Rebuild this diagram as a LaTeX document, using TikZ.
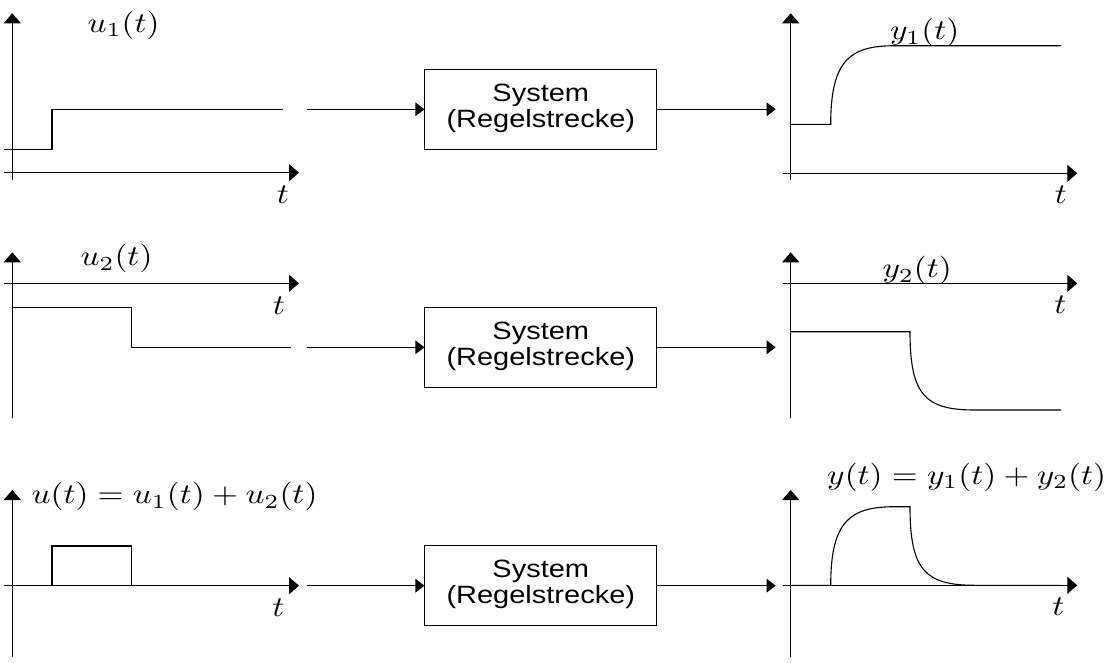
\documentclass[tikz,border=0pt]{standalone}
\usepackage{fontspec}
\usepackage{graphicx}
\usetikzlibrary{arrows.meta}
\newfontfamily\boxfont{Liberation Sans}
\newcommand{\hs}[1]{\scalebox{3.33}[2.85]{#1}}
\newcommand{\boxtext}{\scalebox{1.16}[1]{\begin{tabular}{@{}c@{}}System\\(Regelstrecke)\end{tabular}}}
\tikzset{
  axis/.style={line width=1.3pt, -{Triangle[length=10pt,width=17pt]}},
  sig/.style={line width=1.1pt},
  flow/.style={line width=1.1pt, -{Triangle[length=9pt,width=13.5pt]}},
  sysbox/.style={draw, line width=1pt, minimum width=231.7pt, minimum height=80pt, inner sep=0,
    font=\boxfont\fontsize{25}{25.6}\selectfont},
  lab/.style={inner sep=0, font=\normalsize},
}
\begin{document}
\begin{tikzpicture}[x=1pt,y=-1pt]
\useasboundingbox (0,0) rectangle (1109,662);
% ---------- Row 1 ----------
\draw[axis] (12.3,180) -- (12.3,13.3);
\draw[axis] (4.3,172.7) -- (299,172.7);
\draw[sig] (4.3,149.7) -- (52,149.7) -- (52,109.3) -- (282.7,109.3);
\node[lab] (lu1) at (123.7,25.2) {\hs{$u_1(t)$}};
\node[lab,anchor=base] (t1a) at (283,203) {\hs{$t$}};
\coordinate (in1) at (306.7,109.3);
\node[sysbox] (b1) at (540.8,109.3) {\boxtext};
\coordinate (out1) at (775.7,109.3);
\draw[flow] (in1) -- (b1.west);
\draw[flow] (b1.east) -- (out1);
\draw[axis] (790.7,180) -- (790.7,13.3);
\draw[axis] (782.7,173.3) -- (1077.3,173.3);
\draw[sig] (790.7,124.3) -- (830.7,124.3) .. controls (830.7,60) and (850,45.7) .. (895,45.7) -- (1061,45.7);
\node[lab] (ly1) at (924.7,32.8) {\hs{$y_1(t)$}};
\node[lab,anchor=base] (t1b) at (1061,203) {\hs{$t$}};
% ---------- Row 2 ----------
\draw[axis] (12.3,418.3) -- (12.3,252.3);
\draw[axis] (4.3,283.3) -- (299,283.3);
\draw[sig] (12.3,307.7) -- (131.7,307.7) -- (131.7,347.3) -- (290.7,347.3);
\node[lab] (lu2) at (116.5,258.7) {\hs{$u_2(t)$}};
\node[lab,anchor=base] (t2a) at (279,314) {\hs{$t$}};
\coordinate (in2) at (306.7,347.3);
\node[sysbox] (b2) at (540.8,347.3) {\boxtext};
\coordinate (out2) at (775.7,347.3);
\draw[flow] (in2) -- (b2.west);
\draw[flow] (b2.east) -- (out2);
\draw[axis] (790.7,418.3) -- (790.7,252.3);
\draw[axis] (782.7,283.3) -- (1077.3,283.3);
\draw[sig] (790.7,331.7) -- (910,331.7) .. controls (910,395) and (925,410) .. (975,410) -- (1061,410);
\node[lab] (ly2) at (917.3,270.7) {\hs{$y_2(t)$}};
\node[lab,anchor=base] (t2b) at (1060.5,313) {\hs{$t$}};
% ---------- Row 3 ----------
\draw[axis] (12.3,656.7) -- (12.3,490);
\draw[axis] (4.3,585.7) -- (299,585.7);
\draw[sig] (12.3,585.7) -- (52,585.7) -- (52,546) -- (131.7,546) -- (131.7,585.7) -- (290,585.7);
\node[lab] (lu) at (174.5,496.7) {\hs{$u(t)=u_1(t)+u_2(t)$}};
\node[lab,anchor=base] (t3a) at (278.5,616) {\hs{$t$}};
\coordinate (in3) at (306.7,585.7);
\node[sysbox] (b3) at (540.8,585.7) {\boxtext};
\coordinate (out3) at (775.7,585.7);
\draw[flow] (in3) -- (b3.west);
\draw[flow] (b3.east) -- (out3);
\draw[axis] (790.7,656.7) -- (790.7,490);
\draw[axis] (782.7,585.3) -- (1077.3,585.3);
\draw[sig] (790.7,585.3) -- (830.7,585.3) .. controls (830.7,521) and (850,506.7) .. (895,506.7) -- (910,506.7)
  .. controls (910,570) and (925,585.3) .. (975,585.3) -- (1061,585.3);
\node[lab] (ly) at (966.7,477.5) {\hs{$y(t)=y_1(t)+y_2(t)$}};
\node[lab,anchor=base] (t3b) at (1058.3,615.7) {\hs{$t$}};
\end{tikzpicture}
\end{document}
